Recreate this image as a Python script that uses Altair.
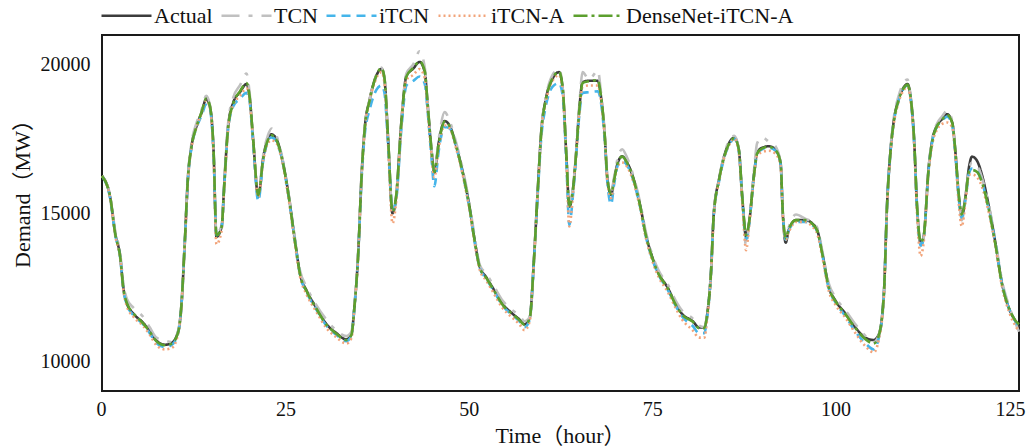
import altair as alt
import pandas as pd

hours = [
    0, 1.1, 1.8, 2.5, 2.9, 3.4, 4.3, 5.6, 6.5, 7.4,
    8.6, 9.5, 10.4, 10.8, 11.3, 11.7, 12.2, 12.9, 13.6, 14.2,
    14.7, 15.2, 15.6, 16.3, 16.7, 17.2, 17.9, 18.8, 19.7, 20.1,
    20.6, 21.3, 22.0, 22.6, 23.1, 23.8, 24.5, 25.4, 26.3, 27.0,
    27.9, 29.2, 30.6, 31.9, 33.3, 34.0, 34.4, 34.9, 35.4, 35.8,
    36.5, 37.4, 38.1, 38.5, 39.0, 39.6, 40.1, 40.8, 41.5, 42.4,
    43.3, 44.0, 44.4, 44.9, 45.3, 45.9, 46.7, 47.4, 48.3, 49.2,
    50.1, 50.8, 51.5, 52.4, 53.5, 54.6, 55.8, 56.9, 57.6, 58.3,
    58.9, 59.4, 59.9, 60.5, 61.4, 62.3, 62.8, 63.3, 63.7, 64.2,
    64.6, 65.1, 65.5, 66.4, 67.6, 68.0, 68.5, 68.9, 69.4, 69.8,
    70.3, 70.9, 71.6, 72.5, 73.4, 74.1, 75.0, 75.9, 77.1, 78.2,
    79.1, 80.5, 81.4, 82.1, 82.5, 83.0, 83.4, 84.1, 84.8, 85.5,
    86.2, 86.8, 87.3, 87.8, 88.2, 88.9, 89.3, 90.0, 90.9, 91.8,
    92.5, 92.8, 93.2, 93.6, 94.6, 95.9, 96.8, 97.5, 98.2, 99.1,
    100.0, 101.4, 102.7, 104.1, 105.2, 105.9, 106.6, 107.0, 107.5, 107.9,
    108.6, 109.3, 109.8, 110.2, 110.7, 111.1, 111.6, 112.0, 112.7, 113.2,
    113.8, 114.5, 115.2, 115.9, 116.3, 116.8, 117.2, 117.7, 118.2, 118.6,
    119.3, 120.0, 120.9, 121.8, 122.7, 123.6, 124.5, 125.0,
]

actual = [
    16250, 15550, 14320, 13500, 12500, 11950, 11600, 11300, 11020, 10700,
    10560, 10620, 11020, 11800, 14080, 16120, 17250, 17940, 18400, 18840,
    18600, 17140, 14200, 14530, 16120, 17940, 18730, 19070, 19350, 18950,
    17480, 15550, 16900, 17480, 17650, 17480, 16900, 15670, 14080, 12950,
    12380, 11810, 11250, 10960, 10740, 10910, 11810, 13520, 16350, 17820,
    18840, 19630, 19860, 19520, 17480, 14990, 15550, 18050, 19630, 19860,
    20090, 19750, 18610, 17140, 16350, 17370, 18100, 17940, 17250, 16350,
    15210, 14080, 13180, 12830, 12380, 11930, 11640, 11410, 11250, 11470,
    13520, 15780, 17820, 18840, 19520, 19750, 19180, 16910, 15210, 15780,
    16910, 18610, 19410, 19460, 19460, 18950, 17710, 16120, 15610, 16120,
    16690, 16910, 16690, 16120, 15210, 14310, 13520, 12950, 12490, 11930,
    11590, 11360, 11140, 11140, 11590, 12950, 14990, 16120, 16910, 17370,
    17540, 17140, 15440, 14200, 14650, 16350, 17030, 17200, 17250, 17140,
    16690, 14990, 14000, 14420, 14760, 14760, 14650, 14420, 13630, 12490,
    12040, 11590, 11140, 10790, 10720, 10910, 12380, 15210, 17140, 18050,
    18840, 19240, 19350, 18950, 17480, 15210, 13970, 14200, 16570, 17480,
    17940, 18160, 18330, 18050, 17140, 15550, 14880, 15550, 16570, 16900,
    16750, 16240, 15210, 13970, 12610, 11810, 11360, 11140,
]

tcn = [
    16250, 15600, 14400, 13600, 12650, 12100, 11800, 11500, 11150, 10800,
    10700, 10650, 11050, 11850, 14150, 16200, 17350, 18050, 18500, 18950,
    18650, 17100, 14300, 14600, 16200, 18050, 18900, 19300, 19700, 19100,
    17500, 15650, 17000, 17600, 17850, 17600, 16950, 15700, 14150, 13050,
    12500, 11900, 11400, 11050, 10850, 11000, 11850, 13600, 16400, 17850,
    18850, 19650, 19900, 19550, 17500, 15050, 15600, 18100, 19700, 20000,
    20450, 19900, 18700, 17200, 16400, 17500, 18400, 18100, 17350, 16450,
    15300, 14200, 13250, 12950, 12500, 12050, 11750, 11550, 11350, 11500,
    13550, 15800, 17850, 18900, 19650, 19850, 19200, 16950, 15300, 15850,
    16950, 18750, 19750, 19500, 19800, 19100, 17800, 16200, 15700, 16200,
    16850, 17150, 16850, 16200, 15300, 14400, 13600, 13050, 12600, 12050,
    11700, 11450, 11200, 11150, 11600, 12950, 15000, 16150, 16950, 17450,
    17600, 17150, 15400, 13900, 14600, 16500, 17350, 17550, 17400, 17250,
    16700, 15000, 14100, 14500, 14950, 14800, 14700, 14500, 13700, 12600,
    12150, 11700, 11250, 10850, 10650, 10900, 12400, 15250, 17200, 18150,
    18950, 19400, 19500, 19000, 17500, 15200, 13850, 14150, 16600, 17550,
    18000, 18250, 18450, 18100, 17150, 15500, 14750, 15500, 16500, 16700,
    16600, 16150, 15250, 14050, 12700, 11900, 11300, 11000,
]

itcn = [
    16250, 15500, 14280, 13450, 12450, 11900, 11550, 11250, 10950, 10620,
    10480, 10550, 10980, 11780, 14050, 16080, 17200, 17880, 18300, 18650,
    18500, 17050, 14250, 14500, 16050, 17850, 18600, 18850, 19050, 18800,
    17350, 15400, 16800, 17400, 17550, 17400, 16850, 15600, 14050, 12900,
    12320, 11750, 11200, 10900, 10680, 10860, 11780, 13480, 16200, 17600,
    18500, 19150, 19300, 19050, 17300, 15100, 15450, 17800, 19300, 19450,
    19600, 19350, 18400, 16900, 15900, 17100, 17900, 17850, 17200, 16300,
    15150, 14030, 13130, 12780, 12330, 11880, 11580, 11350, 11150, 11400,
    13450, 15650, 17600, 18600, 19250, 19380, 18950, 16700, 14600, 15600,
    16800, 18400, 19050, 19070, 19100, 18750, 17550, 16000, 15300, 15950,
    16600, 16750, 16600, 16050, 15150, 14250, 13450, 12900, 12420, 11870,
    11500, 11200, 10950, 10950, 11500, 12900, 14950, 16050, 16850, 17300,
    17500, 17100, 15400, 14100, 14600, 16300, 17000, 17150, 17200, 17100,
    16650, 15000, 14100, 14400, 14700, 14700, 14600, 14380, 13580, 12430,
    11980, 11500, 11000, 10600, 10400, 10800, 12300, 15150, 17100, 18000,
    18800, 19200, 19300, 18900, 17400, 15150, 13900, 14150, 16500, 17450,
    17900, 18100, 18250, 17950, 17050, 15450, 14850, 15450, 16350, 16500,
    16400, 16000, 15100, 13950, 12600, 11800, 11350, 11150,
]

itcn_a = [
    16250, 15520, 14250, 13420, 12420, 11850, 11500, 11200, 10900, 10550,
    10400, 10450, 10950, 11750, 14000, 16050, 17200, 17900, 18380, 18800,
    18550, 17000, 13950, 14400, 16000, 17850, 18650, 18950, 19200, 18850,
    17400, 15550, 16800, 17350, 17450, 17350, 16800, 15550, 13950, 12850,
    12250, 11680, 11120, 10820, 10600, 10780, 11750, 13450, 16250, 17750,
    18780, 19550, 19750, 19400, 17300, 14650, 15400, 17950, 19500, 19650,
    19850, 19550, 18450, 17000, 16200, 17200, 17950, 17850, 17150, 16250,
    15100, 13980, 13080, 12720, 12250, 11800, 11500, 11250, 11050, 11350,
    13450, 15700, 17750, 18750, 19450, 19650, 19100, 16800, 14550, 15650,
    16850, 18500, 19250, 19300, 19300, 18850, 17650, 16050, 15500, 16050,
    16600, 16700, 16550, 16000, 15100, 14200, 13400, 12830, 12350, 11800,
    11400, 11050, 10800, 10800, 11450, 12850, 14900, 16050, 16850, 17300,
    17500, 17050, 15300, 13750, 14550, 16250, 16950, 17050, 17100, 17000,
    16600, 14950, 14100, 14350, 14700, 14700, 14550, 14300, 13500, 12350,
    11900, 11450, 10950, 10500, 10300, 10750, 12250, 15100, 17050, 17950,
    18750, 19150, 19250, 18850, 17350, 15000, 13550, 14000, 16450, 17350,
    17800, 18000, 18050, 17900, 17000, 15300, 14550, 15350, 16300, 16300,
    16200, 15850, 15000, 13850, 12500, 11700, 11200, 11020,
]

densenet = [
    16250, 15560, 14300, 13480, 12480, 11960, 11620, 11280, 11000, 10680,
    10540, 10600, 11000, 11820, 14100, 16150, 17240, 17920, 18420, 18860,
    18620, 17180, 14250, 14520, 16100, 17900, 18700, 19100, 19380, 18980,
    17500, 15600, 16880, 17450, 17620, 17450, 16880, 15650, 14060, 12930,
    12360, 11790, 11230, 10940, 10720, 10890, 11800, 13500, 16320, 17800,
    18820, 19640, 19880, 19560, 17520, 15050, 15580, 18020, 19600, 19880,
    20110, 19780, 18650, 17180, 16380, 17340, 18080, 17920, 17230, 16330,
    15190, 14060, 13160, 12810, 12360, 11910, 11620, 11390, 11230, 11450,
    13500, 15760, 17800, 18820, 19540, 19760, 19220, 16950, 15250, 15800,
    16900, 18580, 19380, 19440, 19480, 18980, 17740, 16150, 15640, 16100,
    16680, 16900, 16680, 16100, 15190, 14290, 13500, 12930, 12470, 11910,
    11570, 11340, 11120, 11120, 11580, 12930, 14970, 16100, 16890, 17350,
    17520, 17160, 15480, 14250, 14680, 16330, 17000, 17180, 17230, 17120,
    16700, 15050, 14150, 14450, 14760, 14760, 14640, 14400, 13610, 12470,
    12020, 11570, 11120, 10740, 10600, 10880, 12350, 15180, 17120, 18030,
    18820, 19220, 19330, 18960, 17500, 15250, 14020, 14220, 16540, 17450,
    17920, 18140, 18300, 18040, 17160, 15600, 14950, 15520, 16400, 16450,
    16380, 16000, 15100, 13920, 12580, 11820, 11380, 11250,
]

series_names = ["Actual", "TCN", "iTCN", "iTCN-A", "DenseNet-iTCN-A"]
series_values = [actual, tcn, itcn, itcn_a, densenet]
series_colors = ["#3c3c3c", "#c0c0c0", "#45b5ea", "#f2a47a", "#5c9f2e"]
series_dashes = [[1, 0], [18, 9, 4, 9], [9, 6], [2, 3], [14, 4, 3, 4]]
series_widths = [2.6, 2.6, 2.0, 2.0, 2.6]

x_ticks = [0, 25, 50, 75, 100, 125]
y_ticks = [10000, 15000, 20000]

for vals in series_values:
    assert len(vals) == len(hours)

rows = []
for name, vals in zip(series_names, series_values):
    for h, v in zip(hours, vals):
        rows.append({"hour": h, "demand": v, "series": name})
df = pd.DataFrame(rows)

SERIF = "Liberation Serif, Noto Sans CJK SC"

legend = alt.Legend(
    title=None,
    orient="none",
    legendX=-2,
    legendY=-46,
    direction="horizontal",
    symbolType="stroke",
    symbolSize=2500,
    symbolStrokeWidth=3,
    labelFont=SERIF,
    labelFontSize=22,
    labelColor="#111111",
    labelOffset=1,
    columnPadding=3,
    padding=0,
    labelLimit=400,
)

base = alt.Chart(df).mark_line(interpolate="monotone").encode(
    x=alt.X(
        "hour:Q",
        scale=alt.Scale(domain=[0, 125], nice=False, zero=False),
        axis=alt.Axis(
            values=x_ticks,
            format="d",
            title="Time（hour）",
            titleFont=SERIF,
            titleFontSize=22,
            titleFontWeight="normal",
            titleColor="#111111",
            titleX=458,
            titleY=44,
            titleAlign="center",
            titleBaseline="middle",
            labelFont=SERIF,
            labelFontSize=20,
            labelColor="#111111",
            labelPadding=8,
            ticks=False,
            domain=False,
            grid=False,
            labelFlush=True,
            labelFlushOffset=6,
        ),
    ),
    y=alt.Y(
        "demand:Q",
        scale=alt.Scale(domain=[9000, 21000], nice=False, zero=False),
        axis=alt.Axis(
            values=y_ticks,
            format="d",
            title="Demand（MW）",
            titleFont=SERIF,
            titleFontSize=22,
            titleFontWeight="normal",
            titleColor="#111111",
            titleX=-80,
            titleY=153,
            titleAngle=270,
            titleAlign="center",
            titleBaseline="middle",
            labelFont=SERIF,
            labelFontSize=20,
            labelColor="#111111",
            labelPadding=12,
            ticks=False,
            domain=False,
            grid=False,
        ),
    ),
    color=alt.Color(
        "series:N",
        scale=alt.Scale(domain=series_names, range=series_colors),
        legend=legend,
    ),
    strokeDash=alt.StrokeDash(
        "series:N",
        scale=alt.Scale(domain=series_names, range=series_dashes),
        legend=legend,
    ),
    strokeWidth=alt.StrokeWidth(
        "series:N",
        scale=alt.Scale(domain=series_names, range=series_widths),
        legend=None,
    ),
)

layers = [base.transform_filter(alt.datum.series == name) for name in series_names]

chart = alt.layer(*layers).properties(
    width=917,
    height=356,
    padding={"left": 102, "top": 35, "right": 11, "bottom": 56},
    autosize=alt.AutoSizeParams(type="none"),
    background="white",
).configure_view(
    stroke="#1a1a1a",
    strokeWidth=2,
)

chart.save("out.html", embed_options={"renderer": "svg", "actions": False})
